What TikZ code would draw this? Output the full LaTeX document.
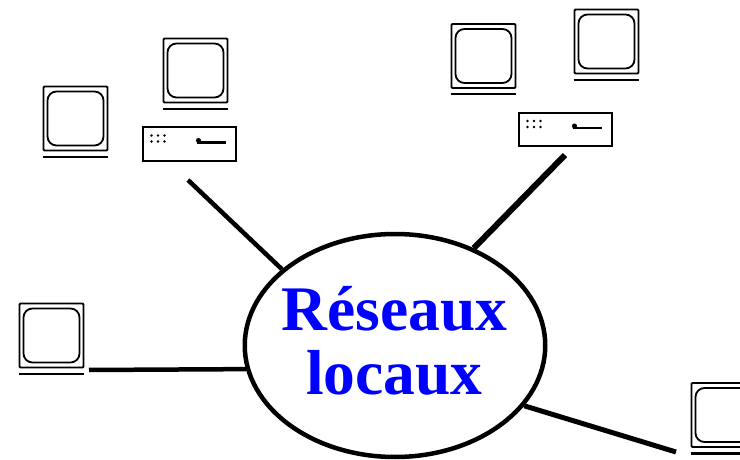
\documentclass[tikz,border=0pt]{standalone}
\usepackage{fontspec}
\setmainfont{Liberation Serif}
\usepackage{tikz}
\usetikzlibrary{shapes.geometric}
\definecolor{bleu}{RGB}{0,0,255}
\tikzset{
	monitor/.style={draw,line width=1.8pt,rounded corners=1pt,minimum width=64pt,minimum height=64pt,inner sep=0pt},
	screen/.style={draw,line width=1.8pt,rounded corners=9pt,minimum width=56pt,minimum height=54pt,inner sep=0pt},
	unit/.style={draw,line width=2pt,minimum width=93pt,minimum height=33pt,inner sep=0pt},
	led/.style={circle,fill,inner sep=1pt},
	base/.style={line width=2.2pt},
	liaison/.style={line width=4.5pt}
}
\begin{document}
\begin{tikzpicture}[x=1pt,y=-1pt]
	\useasboundingbox (0,0) rectangle (740,460);
	\clip (0,0) rectangle (740,460);
	
	\foreach \n/\x/\y in {a/75.5/118.5,b/195.5/70.5,c/483.5/56,d/606.5/41.5,e/51.5/335.5,f/723.5/415}{
		\node (m\n) [monitor] at (\x,\y) {};
		\node (s\n) [screen] at (\x,\y) {};
		\draw [base] ([yshift=-5.5pt]m\n.south west) -- ([yshift=-5.5pt]m\n.south east);
	}
	
	\foreach \n/\x/\y in {g/189.5/144,h/565.5/129.5}{
		\node (u\n) [unit] at (\x,\y) {};
		\foreach \i in {0,1,2}{
			\node (p\n\i) [led] at (\x-38+6.5*\i,\y-8.5) {};
			\node (q\n\i) [led] at (\x-38+6.5*\i,\y-2.5) {};
		}
		\node (r\n) [circle,fill,inner sep=1.8pt] at (\x+9,\y-3.5) {};
		\draw [line width=2.4pt] (r\n.south west) -- +(29,0);
	}
	
	\node (reseau) [ellipse,draw,line width=4.5pt,minimum width=300.5pt,minimum height=223pt,inner sep=0pt] at (395,345.5) {};
	\node (titre) [align=center,text=bleu,font=\fontsize{63.5}{64}\selectfont\bfseries,inner sep=0pt] at (394.5,341) {Réseaux\\locaux};
	
	\coordinate (ca) at (188,180);
	\coordinate (cb) at (565,155);
	\coordinate (cc) at (89,370);
	\coordinate (cd) at (676,452);
	
	\draw [liaison] (ca) -- (reseau.146.7);
	\draw [liaison,line width=6pt] (cb) -- (reseau.51.2);
	\draw [liaison] (cc) -- (reseau.189.5);
	\draw [liaison,line width=5pt] (cd) -- (reseau.-25.9);
\end{tikzpicture}
\end{document}
